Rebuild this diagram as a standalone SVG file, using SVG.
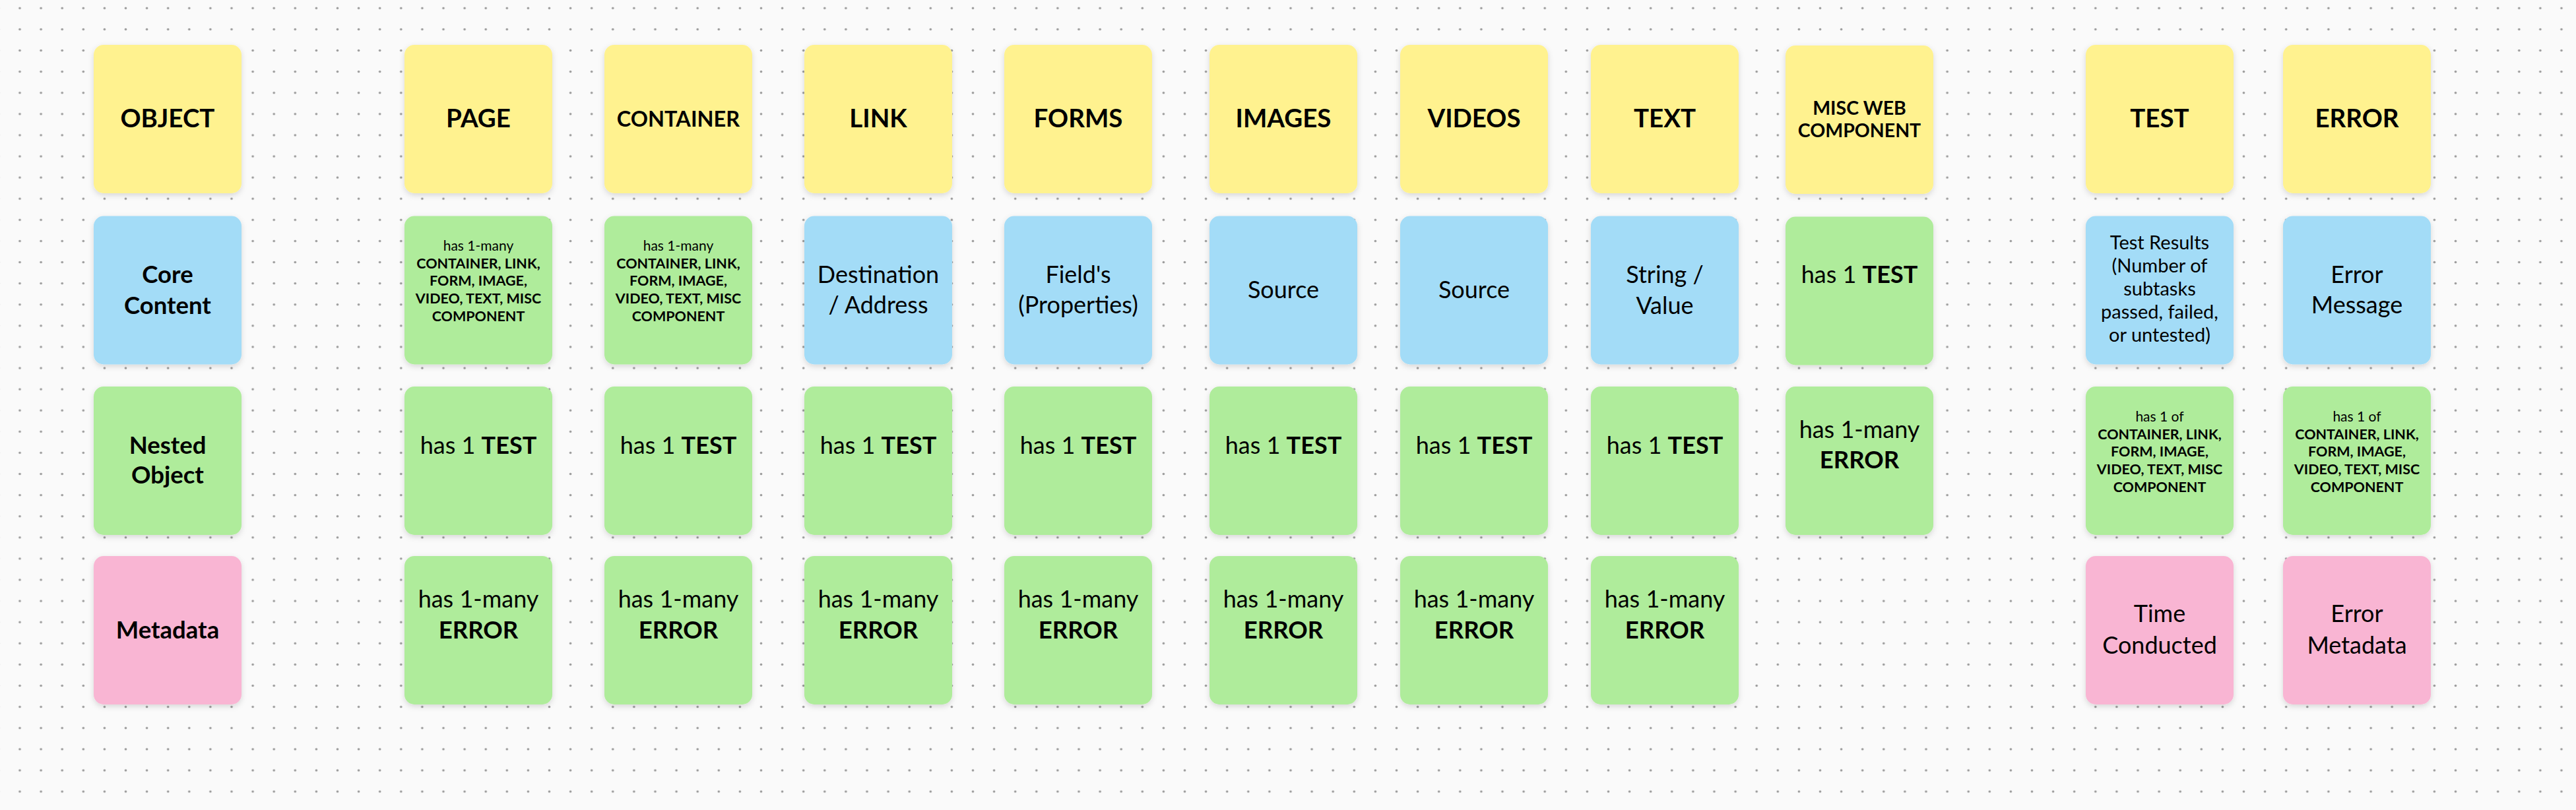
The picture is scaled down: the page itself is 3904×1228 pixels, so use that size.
<svg xmlns="http://www.w3.org/2000/svg" width="3904" height="1228" viewBox="0 0 3904 1228">
<defs>
<pattern id="dots" patternUnits="userSpaceOnUse" x="13.95" y="-3.75" width="32.1" height="32.1">
<circle cx="16.05" cy="16.05" r="1.8" fill="#9c9c9c"/>
</pattern>
<filter id="sh" x="-10%" y="-10%" width="120%" height="125%">
<feDropShadow dx="0" dy="3" stdDeviation="4" flood-color="#000" flood-opacity="0.14"/>
</filter>
</defs>
<style>
.c{filter:url(#sh)}
.y{fill:#FFF28F}
.b{fill:#A3DCF7}
.g{fill:#AFEC9B}
.p{fill:#F9B5D3}
text{font-family:Lato,"Liberation Sans",sans-serif;fill:#000;text-anchor:middle}
.t{font-size:38.5px;font-weight:700}
.r{font-size:36px;font-weight:400}
.rb{font-size:36.5px;font-weight:700}
.sm{font-size:21px;font-weight:400}
.sb{font-size:21.5px;font-weight:700}
.tr{font-size:29px;font-weight:400}
.bd{font-weight:700}
</style>
<rect width="3904" height="1228" fill="#FAFAFA"/>
<rect width="3904" height="1228" fill="url(#dots)"/>

<g id="connectors"/>

<!-- Column: OBJECT -->
<g id="object-title"><rect class="c y" x="142" y="68" width="224" height="225" rx="15"/><text class="t" x="254" y="193">OBJECT</text></g>
<g id="object-core"><rect class="c b" x="142" y="327.5" width="224" height="225" rx="15"/><text class="rb" x="254" y="429">Core</text><text class="rb" x="254" y="476">Content</text></g>
<g id="object-nested"><rect class="c g" x="142" y="586" width="224" height="225" rx="15"/><text class="rb" x="254" y="688">Nested</text><text class="rb" x="254" y="733">Object</text></g>
<g id="object-meta"><rect class="c p" x="142" y="843" width="224" height="225" rx="15"/><text class="rb" x="254" y="968">Metadata</text></g>

<!-- PAGE -->
<g id="page-title"><rect class="c y" x="613" y="68" width="224" height="225" rx="15"/><text class="t" x="725" y="193">PAGE</text></g>
<g id="page-core"><rect class="c g" x="613" y="327.5" width="224" height="225" rx="15"/><text class="sm" x="725" y="380">has 1-many</text><text class="sb" x="725" y="407">CONTAINER, LINK,</text><text class="sb" x="725" y="433">FORM, IMAGE,</text><text class="sb" x="725" y="460">VIDEO, TEXT, MISC</text><text class="sb" x="725" y="487">COMPONENT</text></g>
<g id="page-nested"><rect class="c g" x="613" y="586" width="224" height="225" rx="15"/><text class="r" x="725" y="688">has 1 <tspan class="bd">TEST</tspan></text></g>
<g id="page-meta"><rect class="c g" x="613" y="843" width="224" height="225" rx="15"/><text class="r" x="725" y="921">has 1-many</text><text class="rb" x="725" y="968">ERROR</text></g>

<!-- CONTAINER -->
<g id="container-title"><rect class="c y" x="916" y="68" width="224" height="225" rx="15"/><text class="t" style="font-size:32.5px" x="1028" y="191.5">CONTAINER</text></g>
<g id="container-core"><rect class="c g" x="916" y="327.5" width="224" height="225" rx="15"/><text class="sm" x="1028" y="380">has 1-many</text><text class="sb" x="1028" y="407">CONTAINER, LINK,</text><text class="sb" x="1028" y="433">FORM, IMAGE,</text><text class="sb" x="1028" y="460">VIDEO, TEXT, MISC</text><text class="sb" x="1028" y="487">COMPONENT</text></g>
<g id="container-nested"><rect class="c g" x="916" y="586" width="224" height="225" rx="15"/><text class="r" x="1028" y="688">has 1 <tspan class="bd">TEST</tspan></text></g>
<g id="container-meta"><rect class="c g" x="916" y="843" width="224" height="225" rx="15"/><text class="r" x="1028" y="921">has 1-many</text><text class="rb" x="1028" y="968">ERROR</text></g>

<!-- LINK -->
<g id="link-title"><rect class="c y" x="1219" y="68" width="224" height="225" rx="15"/><text class="t" x="1331" y="193">LINK</text></g>
<g id="link-core"><rect class="c b" x="1219" y="327.5" width="224" height="225" rx="15"/><text class="r" x="1331" y="429">Destination</text><text class="r" x="1331" y="475">/ Address</text></g>
<g id="link-nested"><rect class="c g" x="1219" y="586" width="224" height="225" rx="15"/><text class="r" x="1331" y="688">has 1 <tspan class="bd">TEST</tspan></text></g>
<g id="link-meta"><rect class="c g" x="1219" y="843" width="224" height="225" rx="15"/><text class="r" x="1331" y="921">has 1-many</text><text class="rb" x="1331" y="968">ERROR</text></g>

<!-- FORMS -->
<g id="forms-title"><rect class="c y" x="1522" y="68" width="224" height="225" rx="15"/><text class="t" x="1634" y="193">FORMS</text></g>
<g id="forms-core"><rect class="c b" x="1522" y="327.5" width="224" height="225" rx="15"/><text class="r" x="1634" y="429">Field's</text><text class="r" x="1634" y="475">(Properties)</text></g>
<g id="forms-nested"><rect class="c g" x="1522" y="586" width="224" height="225" rx="15"/><text class="r" x="1634" y="688">has 1 <tspan class="bd">TEST</tspan></text></g>
<g id="forms-meta"><rect class="c g" x="1522" y="843" width="224" height="225" rx="15"/><text class="r" x="1634" y="921">has 1-many</text><text class="rb" x="1634" y="968">ERROR</text></g>

<!-- IMAGES -->
<g id="images-title"><rect class="c y" x="1833" y="68" width="224" height="225" rx="15"/><text class="t" x="1945" y="193">IMAGES</text></g>
<g id="images-core"><rect class="c b" x="1833" y="327.5" width="224" height="225" rx="15"/><text class="r" x="1945" y="452">Source</text></g>
<g id="images-nested"><rect class="c g" x="1833" y="586" width="224" height="225" rx="15"/><text class="r" x="1945" y="688">has 1 <tspan class="bd">TEST</tspan></text></g>
<g id="images-meta"><rect class="c g" x="1833" y="843" width="224" height="225" rx="15"/><text class="r" x="1945" y="921">has 1-many</text><text class="rb" x="1945" y="968">ERROR</text></g>

<!-- VIDEOS -->
<g id="videos-title"><rect class="c y" x="2122" y="68" width="224" height="225" rx="15"/><text class="t" x="2234" y="193">VIDEOS</text></g>
<g id="videos-core"><rect class="c b" x="2122" y="327.5" width="224" height="225" rx="15"/><text class="r" x="2234" y="452">Source</text></g>
<g id="videos-nested"><rect class="c g" x="2122" y="586" width="224" height="225" rx="15"/><text class="r" x="2234" y="688">has 1 <tspan class="bd">TEST</tspan></text></g>
<g id="videos-meta"><rect class="c g" x="2122" y="843" width="224" height="225" rx="15"/><text class="r" x="2234" y="921">has 1-many</text><text class="rb" x="2234" y="968">ERROR</text></g>

<!-- TEXT -->
<g id="text-title"><rect class="c y" x="2411" y="68" width="224" height="225" rx="15"/><text class="t" x="2523" y="193">TEXT</text></g>
<g id="text-core"><rect class="c b" x="2411" y="327.5" width="224" height="225" rx="15"/><text class="r" x="2523" y="429">String /</text><text class="r" x="2523" y="476">Value</text></g>
<g id="text-nested"><rect class="c g" x="2411" y="586" width="224" height="225" rx="15"/><text class="r" x="2523" y="688">has 1 <tspan class="bd">TEST</tspan></text></g>
<g id="text-meta"><rect class="c g" x="2411" y="843" width="224" height="225" rx="15"/><text class="r" x="2523" y="921">has 1-many</text><text class="rb" x="2523" y="968">ERROR</text></g>

<!-- MISC WEB COMPONENT -->
<g id="misc-title"><rect class="c y" x="2706" y="69" width="224" height="225" rx="15"/><text class="t" style="font-size:28.5px" x="2818" y="174">MISC WEB</text><text class="t" style="font-size:28.5px" x="2818" y="208">COMPONENT</text></g>
<g id="misc-core"><rect class="c g" x="2706" y="328.5" width="224" height="225" rx="15"/><text class="r" x="2818" y="429">has 1 <tspan class="bd">TEST</tspan></text></g>
<g id="misc-nested"><rect class="c g" x="2706" y="586" width="224" height="225" rx="15"/><text class="r" x="2818" y="664">has 1-many</text><text class="rb" x="2818" y="710">ERROR</text></g>

<!-- TEST -->
<g id="test-title"><rect class="c y" x="3161" y="68" width="224" height="225" rx="15"/><text class="t" x="3273" y="193">TEST</text></g>
<g id="test-core"><rect class="c b" x="3161" y="327.5" width="224" height="225" rx="15"/><text class="tr" x="3273" y="378">Test Results</text><text class="tr" x="3273" y="413">(Number of</text><text class="tr" x="3273" y="448">subtasks</text><text class="tr" x="3273" y="483">passed, failed,</text><text class="tr" x="3273" y="518">or untested)</text></g>
<g id="test-nested"><rect class="c g" x="3161" y="586" width="224" height="225" rx="15"/><text class="sm" x="3273" y="638.5">has 1 of</text><text class="sb" x="3273" y="665.5">CONTAINER, LINK,</text><text class="sb" x="3273" y="692">FORM, IMAGE,</text><text class="sb" x="3273" y="719">VIDEO, TEXT, MISC</text><text class="sb" x="3273" y="746">COMPONENT</text></g>
<g id="test-meta"><rect class="c p" x="3161" y="843" width="224" height="225" rx="15"/><text class="r" x="3273" y="943">Time</text><text class="r" x="3273" y="991">Conducted</text></g>

<!-- ERROR -->
<g id="error-title"><rect class="c y" x="3460" y="68" width="224" height="225" rx="15"/><text class="t" x="3572" y="193">ERROR</text></g>
<g id="error-core"><rect class="c b" x="3460" y="327.5" width="224" height="225" rx="15"/><text class="r" x="3572" y="429">Error</text><text class="r" x="3572" y="475">Message</text></g>
<g id="error-nested"><rect class="c g" x="3460" y="586" width="224" height="225" rx="15"/><text class="sm" x="3572" y="638.5">has 1 of</text><text class="sb" x="3572" y="665.5">CONTAINER, LINK,</text><text class="sb" x="3572" y="692">FORM, IMAGE,</text><text class="sb" x="3572" y="719">VIDEO, TEXT, MISC</text><text class="sb" x="3572" y="746">COMPONENT</text></g>
<g id="error-meta"><rect class="c p" x="3460" y="843" width="224" height="225" rx="15"/><text class="r" x="3572" y="943">Error</text><text class="r" x="3572" y="991">Metadata</text></g>
</svg>
